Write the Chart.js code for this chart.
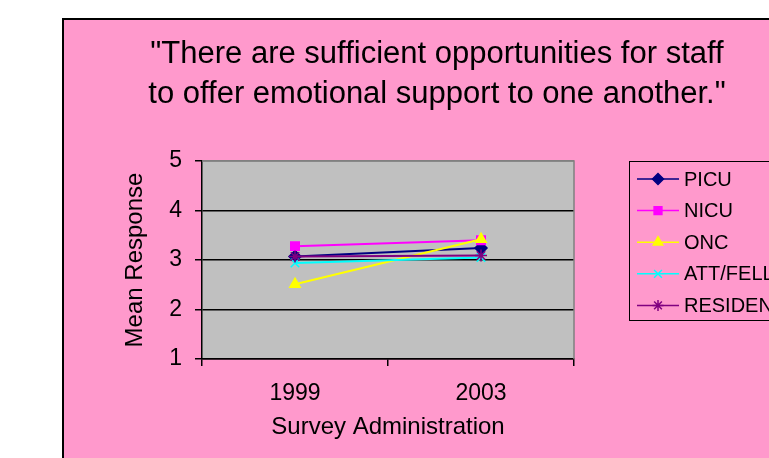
<!DOCTYPE html>
<html>
<head>
<meta charset="utf-8">
<script src="https://cdn.jsdelivr.net/npm/chart.js@4"></script>
<style>
  html, body { margin: 0; padding: 0; background: #fff; overflow: hidden; }
  canvas { display: block; }
</style>
</head>
<body>
<canvas id="myLineChart" width="769" height="458"></canvas>
<script>
// survey years
var years = ['1999', '2003'];
// unit names
var units = ['PICU', 'NICU', 'ONC', 'ATT/FELLOW', 'RESIDENT'];
// mean response per unit
var picu = [3.07, 3.24];
var nicu = [3.28, 3.40];
var onc = [2.51, 3.42];
var attFell = [2.94, 3.05];
var resident = [3.07, 3.09];
// y axis ticks
var yTicks = [1, 2, 3, 4, 5];

var FONT = "'Liberation Sans', Arial, sans-serif";
var PINK = '#ff99cc';

var seriesValues = [picu, nicu, onc, attFell, resident];
var seriesColors = ['#000080', '#ff00ff', '#ffff00', '#00ffff', '#800080'];
var seriesShapes = ['rectRot', 'rect', 'triangle', 'crossRot', 'star'];

// pink frame, gray plot area and legend box
var backdrop = {
  id: 'backdrop',
  beforeDraw: function (chart) {
    var c = chart.ctx, a = chart.chartArea;
    c.save();
    c.fillStyle = '#fff';
    c.fillRect(0, 0, chart.width, chart.height);
    c.fillStyle = PINK;
    c.fillRect(62, 18, chart.width, chart.height);
    c.strokeStyle = '#000';
    c.lineWidth = 2;
    c.beginPath();
    c.moveTo(63, chart.height + 5);
    c.lineTo(63, 19);
    c.lineTo(chart.width + 5, 19);
    c.stroke();
    c.fillStyle = '#c0c0c0';
    c.fillRect(a.left, a.top, a.right - a.left, a.bottom - a.top);
    c.restore();
  },
  beforeDatasetsDraw: function (chart) {
    var c = chart.ctx, a = chart.chartArea;
    c.save();
    c.strokeStyle = '#808080';
    c.lineWidth = 1.5;
    c.beginPath();
    c.moveTo(a.left, a.top);
    c.lineTo(a.right, a.top);
    c.lineTo(a.right, a.bottom);
    c.stroke();
    c.restore();
  },
  afterDraw: function (chart) {
    var c = chart.ctx;
    c.save();
    c.strokeStyle = '#000';
    c.lineWidth = 1;
    c.strokeRect(629.5, 161.5, 200, 159);
    c.font = '20px ' + FONT;
    c.textBaseline = 'middle';
    chart.data.datasets.forEach(function (ds, i) {
      var y = 179 + i * 31.6;
      c.strokeStyle = ds.borderColor;
      c.lineWidth = 1.5;
      c.beginPath();
      c.moveTo(637, y);
      c.lineTo(679, y);
      c.stroke();
      c.fillStyle = ds.borderColor;
      c.lineWidth = 1.5;
      Chart.helpers.drawPoint(c, { pointStyle: ds.pointStyle, radius: 5.5, rotation: 0, borderWidth: 1.5 }, 658, y);
      c.fillStyle = '#000';
      c.fillText(ds.label, 684, y + 1);
    });
    c.restore();
  }
};

var ctx = document.getElementById('myLineChart');
var myLineChart = new Chart(ctx, {
  type: 'line',
  data: {
    labels: years,
    datasets: units.map(function (name, i) {
      return {
        label: name,
        data: seriesValues[i],
        // later series sit on top
        order: units.length - i,
        borderColor: seriesColors[i],
        backgroundColor: seriesColors[i],
        pointBackgroundColor: seriesColors[i],
        pointBorderColor: seriesColors[i],
        pointStyle: seriesShapes[i],
        pointRadius: 6,
        pointBorderWidth: 1.5,
        borderWidth: 2,
        fill: false,
        tension: 0
      };
    })
  },
  options: {
    responsive: false,
    animation: false,
    layout: { padding: { left: 105, right: 0, top: 0, bottom: 0 } },
    plugins: {
      legend: { display: false },
      tooltip: { enabled: false },
      title: {
        display: true,
        text: ['"There are sufficient opportunities for staff', 'to offer emotional support to one another."'],
        color: '#000',
        font: { family: FONT, size: 31, weight: 'normal', lineHeight: 1.29 },
        padding: { top: 34, bottom: 47 }
      }
    },
    scales: {
      x: {
        offset: true,
        grid: { offset: true, drawOnChartArea: false, color: '#000', lineWidth: 1.5, tickLength: 7 },
        border: { color: '#000', width: 1.5 },
        ticks: { color: '#000', padding: 14, font: { family: FONT, size: 23 } },
        title: {
          display: true,
          text: 'Survey Administration',
          color: '#000',
          font: { family: FONT, size: 24 },
          padding: { top: 0, bottom: 16 }
        },
        afterFit: function (s) { s.height = 99; }
      },
      y: {
        min: 1,
        max: 5,
        afterBuildTicks: function (s) { s.ticks = yTicks.map(function (v) { return { value: v }; }); },
        grid: {
          color: function (c) { return c.tick && c.tick.value === 5 ? '#808080' : '#000'; },
          tickColor: '#000',
          lineWidth: 1.5,
          tickLength: 7
        },
        border: { color: '#000', width: 1.5 },
        ticks: { color: '#000', padding: 13, font: { family: FONT, size: 23 } },
        title: {
          display: true,
          text: 'Mean Response',
          color: '#000',
          font: { family: FONT, size: 24 },
          padding: { top: 16, bottom: 0 }
        },
        afterFit: function (s) { s.width = 97; }
      },
      // empty axis that keeps the room for the legend on the right
      spacer: {
        position: 'right',
        grid: { display: false, drawTicks: false },
        border: { display: false },
        ticks: { display: false },
        afterFit: function (s) { s.width = 195; }
      }
    }
  },
  plugins: [backdrop]
});
</script>
</body>
</html>
